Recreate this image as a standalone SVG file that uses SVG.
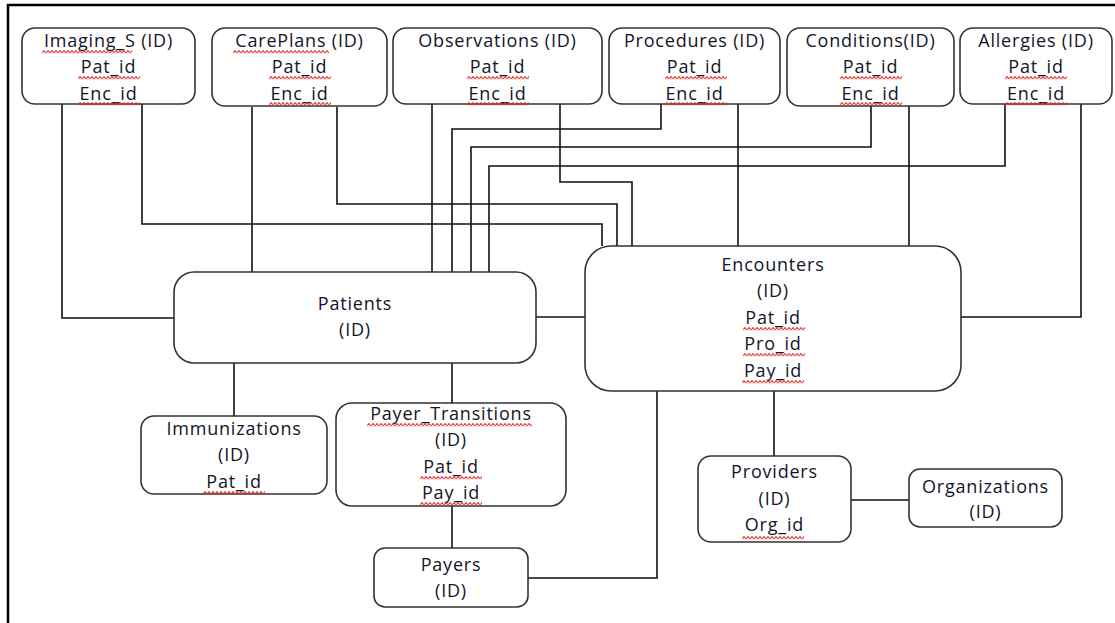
<svg xmlns="http://www.w3.org/2000/svg" width="1115" height="623" viewBox="0 0 1115 623">
<defs>
<style>
.box{fill:#fff;stroke:#333;stroke-width:1.6}
.t{font-family:"Open Sans","Noto Sans","Liberation Sans",sans-serif;font-size:18px;letter-spacing:0.8px;fill:#141428;text-anchor:middle}
.c{fill:none;stroke:#111;stroke-width:1.6}
.sq{fill:url(#wave)}
</style>
<pattern id="wave" width="4" height="3.5" patternUnits="userSpaceOnUse">
<path d="M0,3 L2,0.6 L4,3" fill="none" stroke="#e42a2a" stroke-width="1.1"/>
</pattern>
</defs>
<rect width="1115" height="623" fill="#fff"/>
<rect x="8" y="5" width="1130" height="640" fill="none" stroke="#000" stroke-width="2.5"/>

<g id="connectors">
<path class="c" d="M62,104 V318 H174"/>
<path class="c" d="M142,104 V224 H602 V246"/>
<path class="c" d="M252,107 V272"/>
<path class="c" d="M337,107 V204 H617 V246"/>
<path class="c" d="M432,104 V272"/>
<path class="c" d="M560,104 V182 H632 V246"/>
<path class="c" d="M661,104 V129 H452 V272"/>
<path class="c" d="M738,104 V246"/>
<path class="c" d="M871,106 V147 H471 V272"/>
<path class="c" d="M909,106 V246"/>
<path class="c" d="M1005,104 V166 H489 V272"/>
<path class="c" d="M1081,104 V317 H961"/>
<path class="c" d="M536,317 H585"/>
<path class="c" d="M234,363 V416"/>
<path class="c" d="M452,363 V403"/>
<path class="c" d="M452,506 V548"/>
<path class="c" d="M657,391 V578 H528"/>
<path class="c" d="M774,391 V456"/>
<path class="c" d="M851,500 H909"/>
</g>

<g id="imaging_s">
<rect class="box" x="22" y="28" width="173" height="76" rx="13"/>
<text class="t" x="108.5" y="47">Imaging_S (ID)</text>
<text class="t" x="108.5" y="73">Pat_id</text>
<text class="t" x="108.5" y="100">Enc_id</text>
<rect class="sq" transform="translate(42,50)" width="90" height="3.5"/>
<rect class="sq" transform="translate(78,76)" width="62" height="3.5"/>
<rect class="sq" transform="translate(78,102)" width="62" height="3.5"/>
</g>

<g id="careplans">
<rect class="box" x="212" y="28" width="175" height="78" rx="13"/>
<text class="t" x="299.5" y="47">CarePlans (ID)</text>
<text class="t" x="299.5" y="73">Pat_id</text>
<text class="t" x="299.5" y="100">Enc_id</text>
<rect class="sq" transform="translate(233,50)" width="96" height="3.5"/>
<rect class="sq" transform="translate(269,76)" width="62" height="3.5"/>
<rect class="sq" transform="translate(269,102)" width="62" height="3.5"/>
</g>

<g id="observations">
<rect class="box" x="393" y="28" width="209" height="76" rx="13"/>
<text class="t" x="497.5" y="47">Observations (ID)</text>
<text class="t" x="497.5" y="73">Pat_id</text>
<text class="t" x="497.5" y="100">Enc_id</text>
<rect class="sq" transform="translate(467,76)" width="62" height="3.5"/>
<rect class="sq" transform="translate(467,102)" width="62" height="3.5"/>
</g>

<g id="procedures">
<rect class="box" x="609" y="28" width="171" height="76" rx="13"/>
<text class="t" x="694.5" y="47">Procedures (ID)</text>
<text class="t" x="694.5" y="73">Pat_id</text>
<text class="t" x="694.5" y="100">Enc_id</text>
<rect class="sq" transform="translate(665,76)" width="62" height="3.5"/>
<rect class="sq" transform="translate(665,102)" width="62" height="3.5"/>
</g>

<g id="conditions">
<rect class="box" x="787" y="28" width="167" height="78" rx="13"/>
<text class="t" x="870.5" y="47">Conditions(ID)</text>
<text class="t" x="870.5" y="73">Pat_id</text>
<text class="t" x="870.5" y="100">Enc_id</text>
<rect class="sq" transform="translate(840,76)" width="62" height="3.5"/>
<rect class="sq" transform="translate(840,102)" width="62" height="3.5"/>
</g>

<g id="allergies">
<rect class="box" x="960" y="28" width="152" height="76" rx="13"/>
<text class="t" x="1036" y="47">Allergies (ID)</text>
<text class="t" x="1036" y="73">Pat_id</text>
<text class="t" x="1036" y="100">Enc_id</text>
<rect class="sq" transform="translate(1005,76)" width="62" height="3.5"/>
<rect class="sq" transform="translate(1005,102)" width="62" height="3.5"/>
</g>

<g id="patients">
<rect class="box" x="174" y="272" width="362" height="91" rx="20"/>
<text class="t" x="355" y="310">Patients</text>
<text class="t" x="355" y="336">(ID)</text>
</g>

<g id="encounters">
<rect class="box" x="585" y="246" width="376" height="145" rx="26"/>
<text class="t" x="773" y="271">Encounters</text>
<text class="t" x="773" y="297">(ID)</text>
<text class="t" x="773" y="324">Pat_id</text>
<text class="t" x="773" y="350">Pro_id</text>
<text class="t" x="773" y="377">Pay_id</text>
<rect class="sq" transform="translate(743,327)" width="62" height="3.5"/>
<rect class="sq" transform="translate(743,353)" width="62" height="3.5"/>
<rect class="sq" transform="translate(742,380)" width="62" height="3.5"/>
</g>

<g id="immunizations">
<rect class="box" x="141" y="416" width="186" height="78" rx="13"/>
<text class="t" x="234" y="435">Immunizations</text>
<text class="t" x="234" y="461">(ID)</text>
<text class="t" x="234" y="488">Pat_id</text>
<rect class="sq" transform="translate(203,491)" width="62" height="3.5"/>
</g>

<g id="payer_transitions">
<rect class="box" x="336" y="403" width="230" height="103" rx="16"/>
<text class="t" x="451" y="420">Payer_Transitions</text>
<text class="t" x="451" y="446">(ID)</text>
<text class="t" x="451" y="473">Pat_id</text>
<text class="t" x="451" y="499">Pay_id</text>
<rect class="sq" transform="translate(367,423)" width="165" height="3.5"/>
<rect class="sq" transform="translate(420,476)" width="62" height="3.5"/>
<rect class="sq" transform="translate(420,502)" width="62" height="3.5"/>
</g>

<g id="payers">
<rect class="box" x="374" y="548" width="154" height="59" rx="11"/>
<text class="t" x="451" y="571">Payers</text>
<text class="t" x="451" y="597">(ID)</text>
</g>

<g id="providers">
<rect class="box" x="698" y="456" width="153" height="86" rx="13"/>
<text class="t" x="774.5" y="478">Providers</text>
<text class="t" x="774.5" y="505">(ID)</text>
<text class="t" x="774.5" y="531">Org_id</text>
<rect class="sq" transform="translate(742,536)" width="62" height="3.5"/>
</g>

<g id="organizations">
<rect class="box" x="909" y="469" width="153" height="58" rx="11"/>
<text class="t" x="985.5" y="493">Organizations</text>
<text class="t" x="985.5" y="518">(ID)</text>
</g>
</svg>
